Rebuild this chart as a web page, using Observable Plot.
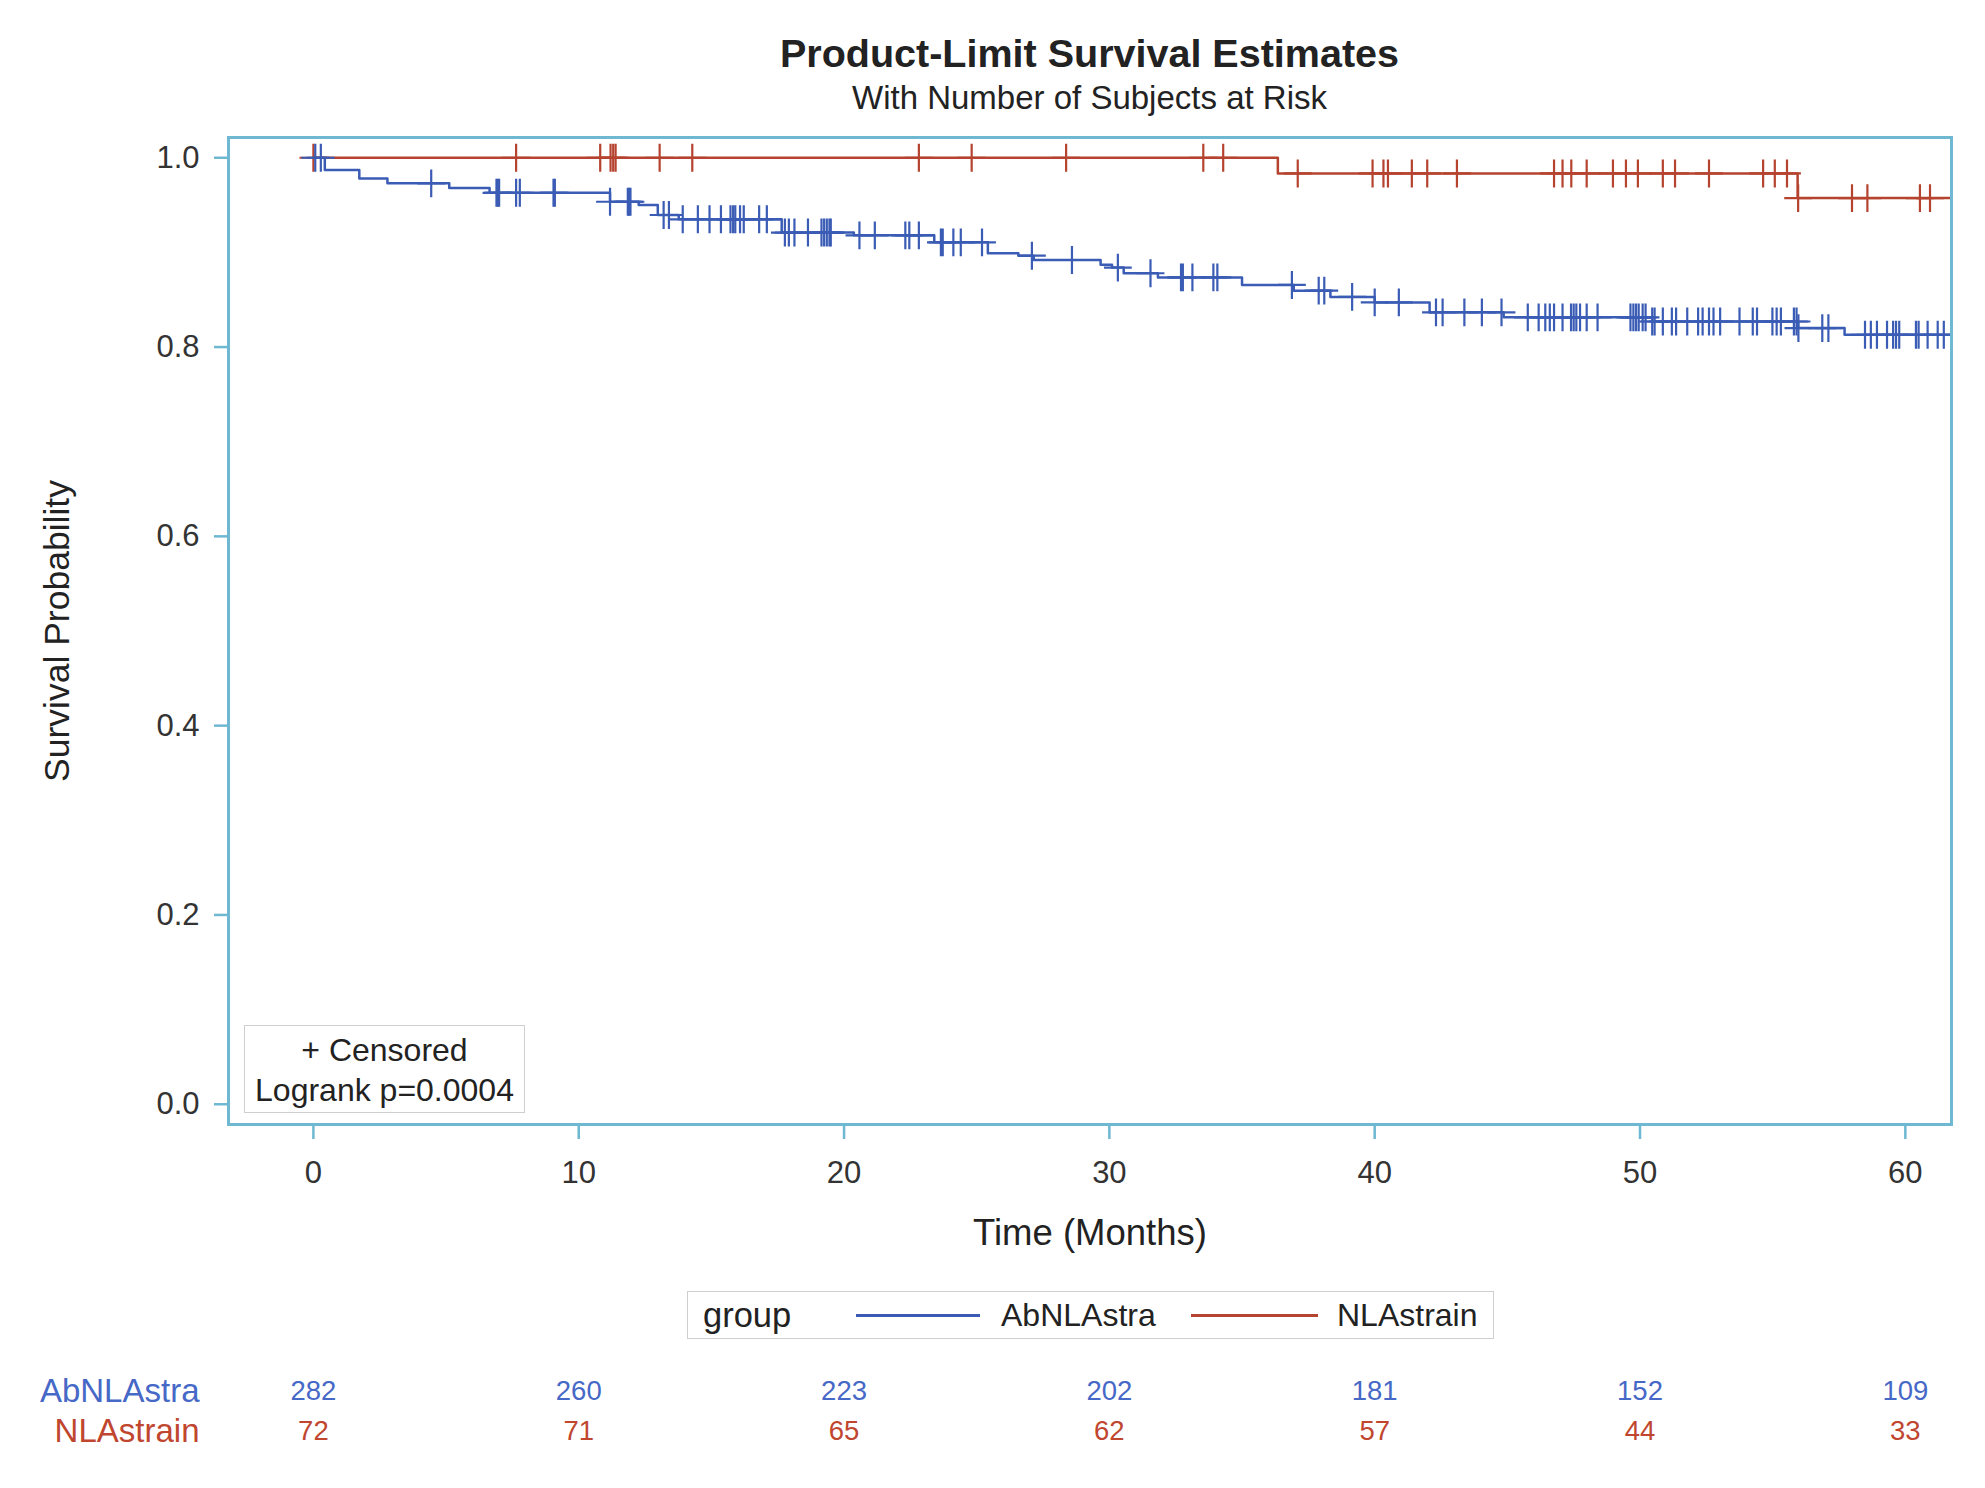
<!DOCTYPE html>
<html>
<head>
<meta charset="utf-8">
<script src="https://cdn.jsdelivr.net/npm/d3@7"></script>
<script src="https://cdn.jsdelivr.net/npm/@observablehq/plot@0.6"></script>
<style>
  body { margin: 0; background: #fff; font-family: "Liberation Sans", Arial, sans-serif; }
  #wrap { position: relative; width: 1985px; height: 1488px; overflow: hidden; background: #fff; }
  .abs { position: absolute; }
  #title { left: 228px; width: 1723px; top: 30px; font-size: 39.5px; font-weight: bold; line-height: 46px; text-align: center; color: #222; }
  #subtitle { left: 228px; width: 1723px; top: 79px; font-size: 33px; line-height: 38px; text-align: center; color: #222; }
  #chart { left: 0; top: 120px; }
  #inset { left: 244px; top: 1025px; width: 279px; height: 82px; border: 1.5px solid #cfcfcf; background: #fff;
           font-size: 32px; line-height: 40px; padding-top: 4px; box-sizing: content-box; text-align: center; color: #222; }
  #legend { left: 687px; top: 1291px; width: 805px; height: 46px; border: 1.5px solid #cfcfcf; background: #fff; color: #222; }
  #legend span { position: absolute; top: 0; line-height: 46px; font-size: 32px; white-space: nowrap; }
  #legend .sw { position: absolute; top: 22px; height: 3px; }
  #risk { left: 0; top: 1360px; }
</style>
</head>
<body>
<div id="wrap">
  <div id="title" class="abs">Product-Limit Survival Estimates</div>
  <div id="subtitle" class="abs">With Number of Subjects at Risk</div>
  <div id="chart" class="abs"></div>
  <div id="inset" class="abs"><div>+ Censored</div><div>Logrank p=0.0004</div></div>
  <div id="legend" class="abs"></div>
  <div id="risk" class="abs"></div>
</div>
<script>
// ---------- data ----------
const groups = ["AbNLAstra", "NLAstrain"];
const xTicks = [0, 10, 20, 30, 40, 50, 60];
const yTicks = [0, 0.2, 0.4, 0.6, 0.8, 1.0];

// Kaplan-Meier step points (time in months, survival estimate)
const blueTime = [0, 0.43, 1.73, 2.79, 5.12, 6.64, 11.18, 12.26, 12.98, 13.77, 17.65, 20.37, 23.4, 25.42, 26.57, 27.15,
  29.67, 30.1, 30.54, 31.83, 35.0, 36.95, 38.33, 40.0, 42.07, 44.86, 50.46, 55.96, 57.71, 62.0];
const blueSurv = [1.0, 0.987, 0.978, 0.973, 0.968, 0.963, 0.9535, 0.950, 0.9395, 0.935, 0.921, 0.918, 0.9106, 0.899, 0.8965, 0.892,
  0.887, 0.884, 0.878, 0.8736, 0.8656, 0.8596, 0.853, 0.8472, 0.8367, 0.8314, 0.827, 0.820, 0.813, 0.813];
const redTime = [0, 36.35, 55.94, 62.0];
const redSurv = [1.0, 0.9834, 0.9574, 0.9574];

// censoring times
const blueCensor = [0.07, 0.28, 4.44, 6.9, 6.95, 7.0, 7.64, 7.78, 9.05, 9.1, 11.18, 11.85, 11.9, 11.95, 13.2, 13.4, 13.92,
  14.49, 14.93, 15.36, 15.72, 15.82, 15.9, 16.08, 16.22, 16.8, 17.09, 17.77, 17.92, 18.13, 18.64, 19.15, 19.25, 19.35,
  19.45, 19.5, 20.58, 21.16, 22.31, 22.46, 22.82, 23.65, 23.72, 24.12, 24.4, 25.2, 27.08, 28.59, 30.32, 31.55, 32.7,
  32.77, 33.13, 33.92, 34.07, 36.88, 37.89, 38.1, 39.15, 40.0, 40.91, 42.31, 42.56, 43.38, 44.04, 44.78, 45.77, 46.18,
  46.43, 46.6, 46.76, 47.08, 47.4, 47.5, 47.6, 47.74, 47.99, 48.4, 49.64, 49.75, 49.85, 49.95, 50.1, 50.21, 50.46,
  50.55, 50.86, 51.2, 51.36, 51.78, 52.19, 52.36, 52.6, 52.77, 53.02, 53.75, 54.25, 54.41, 54.99, 55.15, 55.31, 55.8,
  55.9, 55.97, 56.87, 57.1, 58.48, 58.7, 58.93, 59.31, 59.54, 59.65, 59.77, 60.4, 60.5, 60.84, 61.22, 61.45];
const redCensor = [0, 7.64, 10.81, 11.2, 11.3, 11.39, 13.05, 14.28, 22.82, 24.81, 28.37, 33.54, 34.29, 37.1, 39.92,
  40.33, 40.5, 41.4, 41.98, 43.1, 46.76, 47.08, 47.41, 47.99, 48.98, 49.47, 49.92, 50.86, 51.32, 52.6, 54.64, 55.08,
  55.54, 55.96, 57.99, 58.57, 60.55, 60.93];

// number at risk at xTicks
const atRiskBlue = [282, 260, 223, 202, 181, 152, 109];
const atRiskRed = [72, 71, 65, 62, 57, 44, 33];

// ---------- styling ----------
const FONT = '"Liberation Sans", Arial, sans-serif';
const FRAME = "#6fb8d2";
const LINE_COLORS = ["#3b5cb5", "#b5432f"];
const TEXT_COLORS = ["#4668c6", "#c0462f"];
const X_DOMAIN = [-3.2, 61.74];

// ---------- derived tables ----------
function survAt(times, surv, t) {
  let i = 0;
  for (let k = 0; k < times.length; k++) if (times[k] <= t) i = k;
  return surv[i];
}
const steps = [
  ...redTime.map((t, i) => ({group: groups[1], time: t, surv: redSurv[i]})),
  ...blueTime.map((t, i) => ({group: groups[0], time: t, surv: blueSurv[i]}))
];
const censored = [
  ...redCensor.map(t => ({group: groups[1], time: t, surv: survAt(redTime, redSurv, t)})),
  ...blueCensor.map(t => ({group: groups[0], time: t, surv: survAt(blueTime, blueSurv, t)}))
];
const risk = [
  ...xTicks.map((t, i) => ({group: groups[0], time: t, n: atRiskBlue[i]})),
  ...xTicks.map((t, i) => ({group: groups[1], time: t, n: atRiskRed[i]}))
];

// ---------- main chart ----------
const chart = Plot.plot({
  width: 1985,
  height: 1150,
  marginTop: 17,
  marginBottom: 146,
  marginLeft: 228,
  marginRight: 34,
  style: {fontFamily: FONT, fontSize: "31px", color: "#333", background: "transparent"},
  x: {domain: X_DOMAIN},
  y: {domain: [-0.0214, 1.0214]},
  color: {domain: groups, range: LINE_COLORS},
  marks: [
    Plot.axisX(xTicks, {tickSize: 15, tickPadding: 21, stroke: FRAME, strokeWidth: 2.5, fill: "#333", fontSize: 31, label: null}),
    Plot.axisY(yTicks, {tickSize: 14, tickPadding: 15, stroke: FRAME, strokeWidth: 2.5, fill: "#333", fontSize: 31,
      tickFormat: d3.format(".1f"), label: null}),
    Plot.line(steps, {x: "time", y: "surv", z: "group", stroke: "group", curve: "step-after", strokeWidth: 2.5, clip: true}),
    Plot.dot(censored, {x: "time", y: "surv", stroke: "group", symbol: "plus", r: 9, strokeWidth: 2.2, clip: true}),
    Plot.frame({stroke: FRAME, strokeWidth: 3}),
    Plot.text(["Time (Months)"], {text: d => d, frameAnchor: "bottom", dy: 120, fontSize: 36.5, fill: "#222"}),
    Plot.text(["Survival Probability"], {text: d => d, frameAnchor: "left", textAnchor: "middle", dx: -171, rotate: -90,
      fontSize: 35.5, fill: "#222"})
  ]
});
document.getElementById("chart").appendChild(chart);

// ---------- legend ----------
const legend = document.getElementById("legend");
legend.innerHTML =
  `<span style="left:15px;font-size:34.5px">group</span>` +
  `<div class="sw" style="left:168px;width:124px;background:${LINE_COLORS[0]}"></div>` +
  `<span style="left:313px">${groups[0]}</span>` +
  `<div class="sw" style="left:503px;width:127px;background:${LINE_COLORS[1]}"></div>` +
  `<span style="left:649px">${groups[1]}</span>`;

// ---------- at-risk table ----------
const riskPlot = Plot.plot({
  width: 1985,
  height: 100,
  marginTop: 31,
  marginBottom: 29,
  marginLeft: 228,
  marginRight: 34,
  style: {fontFamily: FONT, background: "transparent", overflow: "visible"},
  x: {domain: X_DOMAIN, axis: null},
  y: {type: "point", domain: groups, padding: 0, axis: null},
  color: {domain: groups, range: TEXT_COLORS},
  marks: [
    Plot.text(risk, {x: "time", y: "group", text: "n", fill: "group", fontSize: 27.5}),
    Plot.text(groups, {frameAnchor: "left", y: d => d, text: d => d, fill: d => d, textAnchor: "end", dx: -29, fontSize: 33})
  ]
});
document.getElementById("risk").appendChild(riskPlot);
</script>
</body>
</html>
